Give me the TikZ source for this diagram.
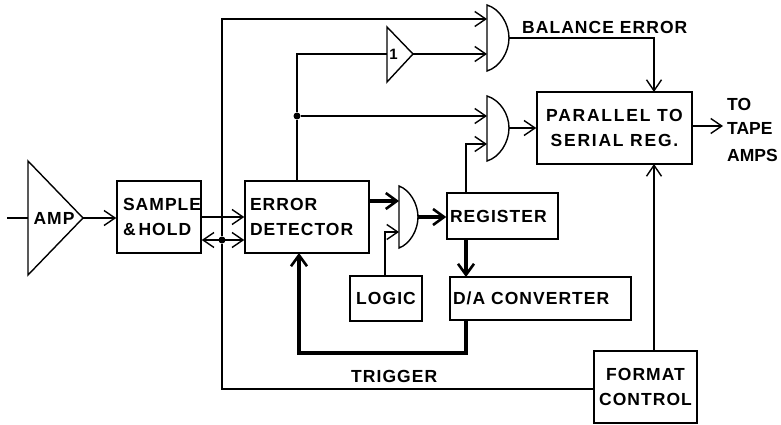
\documentclass[tikz,border=0pt]{standalone}
\usepackage{fontspec}
\setmainfont{Liberation Sans}
\newfontfamily\spreadfont[LetterSpace=6]{Liberation Sans}
\newfontfamily\widefont[LetterSpace=10]{Liberation Sans}
\usetikzlibrary{arrows.meta,calc}
\tikzset{
  lab/.style={font=\fontsize{17.5}{24.5}\selectfont\bfseries\spreadfont, inner sep=0pt},
  widelab/.style={font=\fontsize{17.5}{24.5}\selectfont\bfseries\widefont},
  plainlab/.style={font=\fontsize{17.5}{24.5}\selectfont\bfseries\rmfamily},
  box/.style={draw=black, line width=1.5pt, rectangle, inner sep=0pt, lab},
  gatesym/.style={draw=black, line width=1.4pt, fill=white, line join=miter},
  wire/.style={draw=black, line width=1.3pt},
  thickwire/.style={draw=black, line width=3.6pt},
  sig/.style={wire, -{Straight Barb[length=11pt,width=15pt,line width=1.4pt]}},
  dsig/.style={wire, {Straight Barb[length=11pt,width=15pt,line width=1.4pt]}-{Straight Barb[length=11pt,width=15pt,line width=1.4pt]}},
  thicksig/.style={thickwire, -{Straight Barb[length=11pt,width=16pt,line width=2.6pt]}},
  jn/.style={circle, fill=black, inner sep=0pt, minimum size=7pt},
}
\begin{document}
\begin{tikzpicture}[x=1pt,y=-1pt]
\useasboundingbox (0,0) rectangle (781,425);
% boxes
\node[box,minimum width=84pt,minimum height=72pt,align=left,text width=72pt,xshift=0pt] (sh) at (159,217) {SAMPLE\\\&\,HOLD};
\node[box,minimum width=124pt,minimum height=72pt,align=left,text width=114pt] (ed) at (307,217) {ERROR\\DETECTOR};
\node[box,minimum width=155pt,minimum height=72pt,align=center,widelab] (ps) at (614.5,128) {PARALLEL TO\\SERIAL REG.};
\node[box,minimum width=111pt,minimum height=46pt,align=left,text width=105pt] (reg) at (502.5,216) {REGISTER};
\node[box,minimum width=181pt,minimum height=43pt,align=left,text width=175pt] (da) at (540.5,298.5) {D/A CONVERTER};
\node[box,minimum width=72pt,minimum height=45pt] (lg) at (386,298.5) {LOGIC};
\node[box,minimum width=103pt,minimum height=72pt,align=center] (fc) at (645.5,387) {FORMAT\\CONTROL};
% amplifier and inverter
\draw[gatesym] (28,161) -- (83,218) -- (28,275) -- cycle;
\node[lab] (amplab) at (54,218) {AMP};
\draw[gatesym] (387,27) -- (413,54) -- (387,82) -- cycle;
\node[lab,font=\fontsize{15}{15}\selectfont\bfseries] (invlab) at (393.5,54) {1};
% gates
\draw[gatesym] (487,5) .. controls (500,9) and (509,24) .. (509,38) .. controls (509,52) and (500,67) .. (487,71) -- cycle;
\draw[gatesym] (487,96) .. controls (500,100) and (509,114) .. (509,128) .. controls (509,142) and (500,157) .. (487,161) -- cycle;
\draw[gatesym] (399,186) .. controls (410,190) and (418,204) .. (418,217) .. controls (418,230) and (410,244) .. (399,248) -- cycle;
% named free ends
\coordinate (ampin) at (7,218);
\coordinate (ampout) at (83,218);
\coordinate (invin) at (387,54);
\coordinate (invout) at (413,54);
\coordinate (g1a) at (487,19);
\coordinate (g1b) at (487,54);
\coordinate (g1o) at (509,38);
\coordinate (g2a) at (487,116);
\coordinate (g2b) at (487,144);
\coordinate (g2o) at (509,128);
\coordinate (g3a) at (399,201);
\coordinate (g3b) at (399,232);
\coordinate (g3o) at (418,217);
\coordinate (amppin) at (28,218);
\node[jn] (j1) at (222,240) {};
\node[jn] (j2) at (297,116) {};
% thin wires
\draw[wire] (ampin) -- (amppin);
\draw[sig] (ampout) -- (ampout -| sh.west);
\draw[sig] (sh.east |- 0,217) -- (ed.west |- 0,217);
\draw[dsig] (sh.east |- j1) -- (ed.west |- j1);
\draw[wire] (j1) -- (222,389) -- (fc.west |- 0,389);
\draw[sig] (j1) -- (222,19) -- (g1a);
\draw[wire] (j2 |- ed.north) -- (j2) -- (297,54) -- (invin);
\draw[sig] (invout) -- (g1b);
\draw[sig] (j2) -- (g2a);
\draw[sig] (g1o) -- (654,38) -- (654,92);
\draw[sig] (g2o) -- (ps.west |- g2o);
\draw[sig] (466,193) -- (466,144) -- (g2b);
\draw[sig] (385,276) -- (385,232) -- (g3b);
\draw[sig] (654,351) -- (654,164);
\coordinate (toamps) at (723,126);
\draw[sig] (ps.east |- toamps) -- (toamps);
% thick wires
\draw[thicksig] (ed.east |- g3a) -- (g3a);
\draw[thicksig] (g3o) -- (reg.west |- g3o);
\draw[thicksig] (466,239) -- (466,277);
\draw[thicksig] (466,320) -- (466,353) -- (299,353) -- (299,253);
% free labels
\node[lab,anchor=west] (bal) at (522,27) {BALANCE ERROR};
\node[lab,anchor=west] (trg) at (351,376) {TRIGGER};
\node[lab,plainlab,anchor=west] (to) at (727,104) {TO};
\node[lab,plainlab,anchor=west] (tape) at (727,128) {TAPE};
\node[lab,plainlab,anchor=west] (amps) at (727,155) {AMPS};
\end{tikzpicture}
\end{document}
